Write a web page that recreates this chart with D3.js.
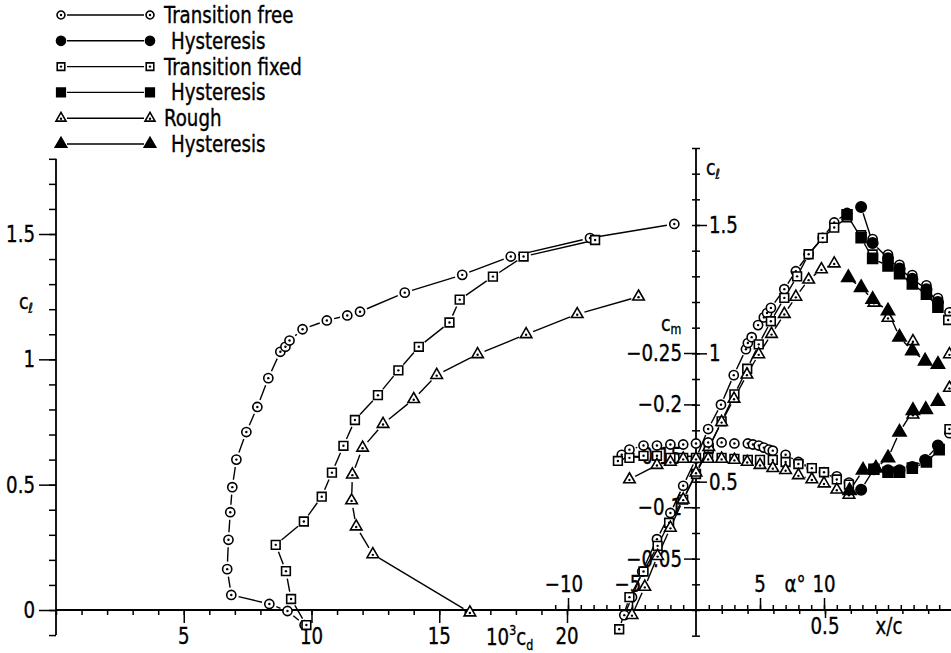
<!DOCTYPE html>
<html>
<head>
<meta charset="utf-8">
<script src="https://cdn.jsdelivr.net/npm/d3@7"></script>
<style>
  body { margin: 0; background: #fff; }
</style>
</head>
<body>
<svg id="chart" width="951" height="653"></svg>
<script>
// ---- legend ----
const legendLabels = ["Transition free", "Hysteresis", "Transition fixed", "Hysteresis", "Rough", "Hysteresis"];

// ---- left panel: drag polar (10^3 cd, cl) ----
const freePolarCd = [9.73, 9.06, 8.35, 6.86, 6.7, 6.75, 6.82, 6.9, 7.06, 7.45, 7.88, 8.31, 8.78, 8.98, 9.14, 9.65, 10.6, 11.4, 11.9, 13.65, 15.9, 17.8, 20.9, 24.2];
const freePolarCl = [-0.06, -0.004, 0.024, 0.06, 0.163, 0.28, 0.39, 0.49, 0.60, 0.71, 0.81, 0.925, 1.03, 1.05, 1.075, 1.12, 1.155, 1.175, 1.19, 1.266, 1.337, 1.41, 1.484, 1.54];
const fixedPolarCd = [9.8, 9.2, 9.0, 8.6, 9.7, 10.4, 10.8, 11.25, 11.7, 12.6, 13.4, 14.2, 15.4, 15.8, 17.1, 18.3, 21.1];
const fixedPolarCl = [-0.06, 0.044, 0.155, 0.26, 0.353, 0.452, 0.548, 0.655, 0.758, 0.857, 0.956, 1.05, 1.147, 1.238, 1.33, 1.41, 1.476];
const roughPolarCd = [16.2, 12.4, 11.75, 11.57, 11.6, 12.0, 12.8, 14.0, 14.9, 16.5, 18.4, 20.4, 22.8];
const roughPolarCl = [-0.01, 0.222, 0.333, 0.437, 0.54, 0.647, 0.742, 0.841, 0.937, 1.02, 1.10, 1.18, 1.25];

// ---- right panel: cl vs alpha ----
const freeAlpha = [-5.6, -5.0, -4.2, -3.05, -2.0, -1.0, 0, 0.95, 1.95, 2.95, 3.9, 4.05, 4.35, 4.85, 5.3, 5.55, 5.85, 6.9, 7.8, 8.8, 9.9, 10.8, 11.8];
const freeCl = [-0.02, 0.05, 0.15, 0.276, 0.378, 0.484, 0.59, 0.705, 0.80, 0.915, 1.016, 1.04, 1.063, 1.11, 1.14, 1.157, 1.177, 1.25, 1.32, 1.386, 1.45, 1.51, 1.547];
const freePostAlpha = [13.8, 15.0, 15.9, 16.9, 18.0, 18.9, 19.8];
const freePostCl = [1.445, 1.385, 1.345, 1.305, 1.265, 1.215, 1.16];
const freeHystAlpha = [12.9, 13.8, 15.0, 15.9, 16.9, 18.0, 18.9];
const freeHystCl = [1.57, 1.43, 1.37, 1.33, 1.29, 1.25, 1.20];

const fixedAlpha = [-6.0, -5.2, -4.1, -3.0, -2.1, -1.0, 0, 1.0, 2.0, 3.0, 4.0, 4.9, 5.85, 6.9, 7.9, 8.8, 9.9, 10.8, 11.8];
const fixedCl = [-0.075, 0.05, 0.15, 0.25, 0.34, 0.43, 0.53, 0.63, 0.735, 0.84, 0.94, 1.035, 1.125, 1.216, 1.30, 1.386, 1.45, 1.49, 1.53];
const fixedPostAlpha = [12.9, 13.8, 15.0, 15.9, 16.9, 18.0, 18.9, 19.7];
const fixedPostCl = [1.46, 1.385, 1.355, 1.32, 1.28, 1.24, 1.195, 1.13];
const fixedHystAlpha = [11.8, 12.9, 13.8, 15.0, 15.9, 16.9, 18.0, 18.9];
const fixedHystCl = [1.54, 1.45, 1.37, 1.34, 1.31, 1.27, 1.23, 1.18];

const roughAlpha = [-5.0, -4.0, -3.0, -2.0, -1.0, 0, 1.0, 2.0, 2.97, 3.98, 4.9, 5.9, 6.9, 7.8, 8.8, 9.8, 10.8];
const roughCl = [-0.02, 0.09, 0.21, 0.32, 0.43, 0.535, 0.635, 0.732, 0.823, 0.917, 0.996, 1.075, 1.153, 1.22, 1.287, 1.327, 1.35];
const roughPostAlpha = [13.9, 15.0, 16.95, 19.8];
const roughPostCl = [1.197, 1.138, 1.047, 0.996];
const roughHystAlpha = [11.9, 12.9, 13.8, 15.0, 15.9, 16.9, 17.9, 18.9];
const roughHystCl = [1.295, 1.256, 1.21, 1.165, 1.063, 1.01, 0.97, 0.957];

// ---- right panel: cm vs alpha ----
const freeCmAlpha = [-5.8, -5.2, -4.1, -3.05, -2.0, -1.0, 0, 0.95, 2.0, 3.0, 4.05, 4.45, 4.9, 5.3, 5.7, 6.0, 7.0, 8.0, 9.05, 10.0, 11.0, 11.95];
const freeCm = [-0.151, -0.156, -0.160, -0.160, -0.161, -0.161, -0.162, -0.163, -0.163, -0.162, -0.162, -0.161, -0.160, -0.158, -0.156, -0.155, -0.151, -0.144, -0.138, -0.134, -0.130, -0.124];
const freePostCmAlpha = [19.8];
const freePostCm = [-0.172];
const freeHystCmAlpha = [12.9, 13.9, 15.0, 15.9, 16.9, 17.9, 18.9];
const freeHystCm = [-0.117, -0.137, -0.136, -0.136, -0.139, -0.146, -0.160];

const fixedCmAlpha = [-6.1, -5.2, -4.1, -3.05, -2.0, -1.0, 0, 0.95, 2.0, 3.0, 4.05, 5.0, 6.0, 7.0, 8.0, 9.05, 10.0, 11.0, 11.95];
const fixedCm = [-0.145, -0.148, -0.150, -0.150, -0.148, -0.148, -0.148, -0.148, -0.148, -0.147, -0.146, -0.146, -0.146, -0.144, -0.142, -0.138, -0.134, -0.127, -0.122];
const fixedPostCmAlpha = [19.8];
const fixedPostCm = [-0.176];
const fixedHystCmAlpha = [13.9, 15.0, 15.9, 16.9, 18.0, 19.0];
const fixedHystCm = [-0.137, -0.134, -0.134, -0.138, -0.144, -0.156];

const roughCmAlpha = [-5.2, -3.05, -2.0, -1.0, 0, 0.95, 2.0, 3.0, 4.0, 5.0, 6.0, 7.0, 8.0, 9.05, 10.0, 11.0, 11.95];
const roughCm = [-0.127, -0.141, -0.144, -0.147, -0.147, -0.147, -0.147, -0.146, -0.144, -0.141, -0.138, -0.136, -0.131, -0.127, -0.123, -0.117, -0.112];
const roughPostCmAlpha = [16.95, 19.8];
const roughPostCm = [-0.190, -0.216];
const roughHystCmAlpha = [12.0, 13.05, 14.05, 15.0, 15.9, 16.95, 17.95, 18.9];
const roughHystCm = [-0.116, -0.136, -0.138, -0.148, -0.173, -0.194, -0.195, -0.203];

// ---- tick labels ----
const cdTickLabels = [5, 10, 15, 20];
const clLeftTickLabels = [0, 0.5, 1, 1.5];
const clRightTickLabels = [0.5, 1, 1.5];
const cmTickLabels = [-0.25, -0.2, -0.15, -0.1, -0.05];
const alphaTickLabels = [-10, -5, 5, 10];
const xcTickLabels = [0.5];

const FONT = '"DejaVu Sans Condensed", "DejaVu Sans", sans-serif';
const SQUEEZE = 0.88; // the scanned lettering is narrower than any installed face
const svg = d3.select("#chart");
const Y0 = 610;

// scales
const cdX = d3.scaleLinear().domain([0, 20]).range([56, 567]);
const clLY = d3.scaleLinear().domain([0, 1.5]).range([Y0, 234]);
const alphaX = d3.scaleLinear().domain([0, 10]).range([696, 824]);
const clRY = d3.scaleLinear().domain([0, 1.5]).range([Y0, 225]);
const cmY = d3.scaleLinear().domain([0, -0.25]).range([Y0, 353]);
const xcX = d3.scaleLinear().domain([0, 0.5]).range([696, 825]);

const fmt = d3.format("");

function text(x, y, s, anchor, size) {
  return svg.append("g").attr("transform", `translate(${x},${y}) scale(${SQUEEZE},1)`)
    .append("text").text(s)
    .attr("text-anchor", anchor || "start")
    .attr("font-family", FONT).attr("font-size", size || 23).attr("fill", "#000")
    .attr("stroke", "#000").attr("stroke-width", 0.35);
}

function styleAxis(g) {
  g.select(".domain").remove();
  g.selectAll("line").attr("stroke", "#000").attr("stroke-width", 1.5);
  g.selectAll("text").remove();
}

// ---- axes ----
svg.append("line").attr("x1", cdX(0)).attr("x2", 951).attr("y1", Y0).attr("y2", Y0)
  .attr("stroke", "#000").attr("stroke-width", 1.8);
svg.append("line").attr("x1", cdX(0)).attr("x2", cdX(0)).attr("y1", clLY(-0.1)).attr("y2", clLY(1.8))
  .attr("stroke", "#000").attr("stroke-width", 1.8);
svg.append("line").attr("x1", alphaX(0)).attr("x2", alphaX(0)).attr("y1", clRY(-0.1)).attr("y2", clRY(1.8))
  .attr("stroke", "#000").attr("stroke-width", 1.8);

// cd ticks
svg.append("g").attr("transform", `translate(0,${Y0})`)
  .call(d3.axisBottom(cdX).tickValues(d3.range(0, 21)).tickSize(5)).call(styleAxis);
svg.append("g").attr("transform", `translate(0,${Y0})`)
  .call(d3.axisBottom(cdX).tickValues(cdTickLabels).tickSize(13)).call(styleAxis);
cdTickLabels.forEach(v => text(cdX(v), 644, fmt(v), "middle"));
const cdLab = text(486, 645, "10", "start");
cdLab.append("tspan").attr("font-size", 14).attr("dy", -10).text("3");
cdLab.append("tspan").attr("dy", 10).text("c");
cdLab.append("tspan").attr("font-size", 14).attr("dy", 5).text("d");

// left cl ticks
svg.append("g").attr("transform", `translate(${cdX(0)},0)`)
  .call(d3.axisLeft(clLY).tickValues(d3.range(-1, 19).map(d => d / 10)).tickSize(7)).call(styleAxis);
svg.append("g").attr("transform", `translate(${cdX(0)},0)`)
  .call(d3.axisLeft(clLY).tickValues(clLeftTickLabels).tickSize(17)).call(styleAxis);
clLeftTickLabels.forEach(v => text(35, clLY(v) + 8, fmt(v), "end"));
const clLLab = text(19, 309, "c", "start", 22);
clLLab.append("tspan").attr("font-size", 14).attr("dy", 4).text("ℓ");

// right vertical axis ticks
svg.append("g").attr("transform", `translate(${alphaX(0)},0)`)
  .call(d3.axisLeft(clRY).tickValues(d3.range(-1, 19).map(d => d / 10)).tickSize(4)).call(styleAxis);
svg.append("g").attr("transform", `translate(${alphaX(0)},0)`)
  .call(d3.axisRight(clRY).tickValues(d3.range(-1, 19).map(d => d / 10)).tickSize(4)).call(styleAxis);
svg.append("g").attr("transform", `translate(${alphaX(0)},0)`)
  .call(d3.axisRight(clRY).tickValues(clRightTickLabels).tickSize(11)).call(styleAxis);
svg.append("g").attr("transform", `translate(${alphaX(0)},0)`)
  .call(d3.axisLeft(cmY).tickValues(cmTickLabels).tickSize(12)).call(styleAxis);
clRightTickLabels.forEach(v => text(alphaX(0) + 13, clRY(v) + 8, fmt(v), "start"));
cmTickLabels.forEach(v => text(alphaX(0) - 14, cmY(v) + 8, fmt(v), "end"));
const clRLab = text(706, 175, "c", "start", 22);
clRLab.append("tspan").attr("font-size", 14).attr("dy", 4).text("ℓ");
const cmLab = text(661, 331, "c", "start", 22);
cmLab.append("tspan").attr("font-size", 14).attr("dy", 3).text("m");

// alpha ticks (up)
svg.append("g").attr("transform", `translate(0,${Y0})`)
  .call(d3.axisTop(alphaX).tickValues(d3.range(-11, 20).filter(d => d !== 0)).tickSize(5)).call(styleAxis);
svg.append("g").attr("transform", `translate(0,${Y0})`)
  .call(d3.axisTop(alphaX).tickValues(alphaTickLabels).tickSize(12)).call(styleAxis);
alphaTickLabels.forEach(v => text(alphaX(v) - (v < 0 ? 4 : 0), 592, fmt(v), "middle"));
text(795, 592, "α°", "middle");

// x/c ticks (down)
svg.append("g").attr("transform", `translate(0,${Y0})`)
  .call(d3.axisBottom(xcX).tickValues(d3.range(1, 10).map(d => d / 10)).tickSize(4)).call(styleAxis);
svg.append("g").attr("transform", `translate(0,${Y0})`)
  .call(d3.axisBottom(xcX).tickValues(xcTickLabels).tickSize(8)).call(styleAxis);
xcTickLabels.forEach(v => text(xcX(v), 634, fmt(v), "middle"));
text(889, 634, "x/c", "middle");

// ---- marks ----
const symbols = { circle: d3.symbolCircle, square: d3.symbolSquare, triangle: d3.symbolTriangle };
const baseSize = { circle: 66, square: 76, triangle: 58 };

function marker(g, shape, filled, x, y, k) {
  const size = baseSize[shape] * (filled ? 1.3 : 1) * (k || 1);
  g.append("path").attr("d", d3.symbol(symbols[shape], size)())
    .attr("transform", `translate(${x},${y})`)
    .attr("fill", filled ? "#000" : "#fff").attr("stroke", "#000").attr("stroke-width", 1.6);
  if (!filled) {
    g.append("circle").attr("cx", x).attr("cy", y + (shape === "triangle" ? 0.5 : 0))
      .attr("r", 1.2).attr("fill", "#000");
  }
}

function gapLine(g, pts, gap) {
  for (let i = 0; i < pts.length - 1; i++) {
    const [x1, y1] = pts[i], [x2, y2] = pts[i + 1];
    const dx = x2 - x1, dy = y2 - y1, L = Math.hypot(dx, dy);
    if (L <= 2 * gap + 1) continue;
    const ux = dx / L, uy = dy / L;
    g.append("line")
      .attr("x1", x1 + ux * gap).attr("y1", y1 + uy * gap)
      .attr("x2", x2 - ux * gap).attr("y2", y2 - uy * gap)
      .attr("stroke", "#000").attr("stroke-width", 1.4);
  }
}

const lineLayer = svg.append("g");
const hollowLayer = svg.append("g");
const filledLayer = svg.append("g");

// polar
[
  { x: freePolarCd, y: freePolarCl, shape: "circle" },
  { x: fixedPolarCd, y: fixedPolarCl, shape: "square" },
  { x: roughPolarCd, y: roughPolarCl, shape: "triangle" }
].forEach(s => {
  const pts = s.x.map((d, i) => [cdX(d), clLY(s.y[i])]);
  gapLine(lineLayer, pts, 7.5);
  pts.forEach(p => marker(hollowLayer, s.shape, false, p[0], p[1]));
});

// alpha plots
const alphaSeries = [
  { a: freeAlpha, v: freeCl, y: clRY, shape: "circle", filled: false, line: true },
  { a: freePostAlpha, v: freePostCl, y: clRY, shape: "circle", filled: false, line: false },
  { a: freeHystAlpha, v: freeHystCl, y: clRY, shape: "circle", filled: true, line: true },
  { a: fixedAlpha, v: fixedCl, y: clRY, shape: "square", filled: false, line: true },
  { a: fixedPostAlpha, v: fixedPostCl, y: clRY, shape: "square", filled: false, line: false },
  { a: fixedHystAlpha, v: fixedHystCl, y: clRY, shape: "square", filled: true, line: true },
  { a: roughAlpha, v: roughCl, y: clRY, shape: "triangle", filled: false, line: true },
  { a: roughPostAlpha, v: roughPostCl, y: clRY, shape: "triangle", filled: false, line: false },
  { a: roughHystAlpha, v: roughHystCl, y: clRY, shape: "triangle", filled: true, line: true },
  { a: freeCmAlpha, v: freeCm, y: cmY, shape: "circle", filled: false, line: true },
  { a: freePostCmAlpha, v: freePostCm, y: cmY, shape: "circle", filled: false, line: false },
  { a: freeHystCmAlpha, v: freeHystCm, y: cmY, shape: "circle", filled: true, line: true },
  { a: fixedCmAlpha, v: fixedCm, y: cmY, shape: "square", filled: false, line: true },
  { a: fixedPostCmAlpha, v: fixedPostCm, y: cmY, shape: "square", filled: false, line: false },
  { a: fixedHystCmAlpha, v: fixedHystCm, y: cmY, shape: "square", filled: true, line: true },
  { a: roughCmAlpha, v: roughCm, y: cmY, shape: "triangle", filled: false, line: true },
  { a: roughPostCmAlpha, v: roughPostCm, y: cmY, shape: "triangle", filled: false, line: false },
  { a: roughHystCmAlpha, v: roughHystCm, y: cmY, shape: "triangle", filled: true, line: true }
];

alphaSeries.forEach(s => {
  const pts = s.a.map((d, i) => [alphaX(d), s.y(s.v[i])]);
  if (s.line) gapLine(lineLayer, pts, 6.5);
  pts.forEach(p => marker(s.filled ? filledLayer : hollowLayer, s.shape, s.filled, p[0], p[1]));
});

// ---- legend ----
const legendShapes = ["circle", "circle", "square", "square", "triangle", "triangle"];
const legendY = d3.scaleLinear().domain([0, 5]).range([15, 144]);
const legend = svg.append("g");
legendLabels.forEach((lab, i) => {
  const y = legendY(i), filled = i % 2 === 1;
  legend.append("line").attr("x1", 67).attr("x2", 144).attr("y1", y).attr("y2", y)
    .attr("stroke", "#000").attr("stroke-width", 1.4);
  marker(legend, legendShapes[i], filled, 61, y, 0.75);
  marker(legend, legendShapes[i], filled, 150, y, 0.75);
  text(filled ? 171 : 164, y + 8, lab, "start", 23);
});
</script>
</body>
</html>
